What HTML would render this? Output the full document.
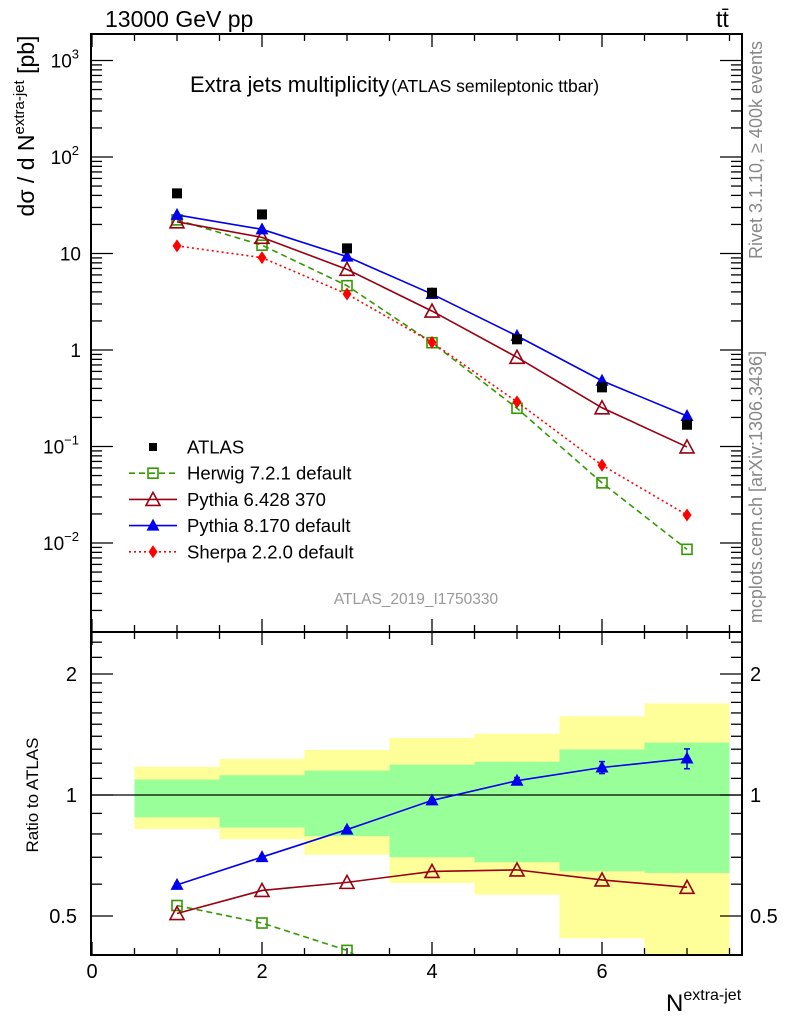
<!DOCTYPE html>
<html><head><meta charset="utf-8">
<style>
html,body{margin:0;padding:0;background:#fff;overflow:hidden;width:786px;height:1024px;}
svg{display:block;font-family:"Liberation Sans",sans-serif;}
</style></head>
<body>
<svg id="chart" width="786" height="1024" viewBox="0 0 786 1024">
<g id="bands"></g>
<g id="grid"></g>
<g id="series"></g>
<rect x="91" y="34" width="651" height="598" fill="none" stroke="#000" stroke-width="2"/>
<rect x="91" y="632" width="651" height="323" fill="none" stroke="#000" stroke-width="2"/>
<text x="105" y="27" font-size="23">13000 GeV pp</text>
<text x="716" y="27" font-size="23">tt̄</text>
<text x="190" y="92" font-size="22">Extra jets multiplicity<tspan font-size="17.5" dx="2">(ATLAS semileptonic ttbar)</tspan></text>
<text transform="translate(34,126) rotate(-90)" text-anchor="middle" font-size="23">dσ / d N<tspan font-size="15" dy="-10">extra-jet</tspan><tspan dy="10"> [pb]</tspan></text>
<text transform="translate(38,795) rotate(-90)" text-anchor="middle" font-size="17">Ratio to ATLAS</text>
<text x="666" y="1011" font-size="24">N<tspan font-size="16" dy="-11">extra-jet</tspan></text>
<text transform="translate(762,150) rotate(-90)" text-anchor="middle" font-size="18" fill="#888">Rivet 3.1.10, ≥ 400k events</text>
<text transform="translate(762,487) rotate(-90)" text-anchor="middle" font-size="18" fill="#888">mcplots.cern.ch [arXiv:1306.3436]</text>
<text x="416" y="604" text-anchor="middle" font-size="15.5" fill="#999">ATLAS_2019_I1750330</text>
<g id="legend"></g>
</svg>
<script>
const xCats = [1,2,3,4,5,6,7];
const atlasVals = [42, 25.4, 11.3, 3.92, 1.29, 0.41, 0.168];
const herwigVals = [22.3, 12.2, 4.64, 1.19, 0.249, 0.042, 0.0086];
const pythia6Vals = [21.3, 14.7, 6.85, 2.53, 0.84, 0.252, 0.099];
const pythia8Vals = [25.1, 17.8, 9.27, 3.8, 1.40, 0.48, 0.207];
const sherpaVals = [12.0, 9.05, 3.80, 1.2, 0.29, 0.064, 0.0195];
const ratioP8Err = [0.005, 0.005, 0.008, 0.01, 0.02, 0.04, 0.07];
const bandEdges = [0.5,1.5,2.5,3.5,4.5,5.5,6.5,7.5];
const yellowUp = [1.176, 1.23, 1.294, 1.386, 1.42, 1.57, 1.69];
const yellowDn = [0.823, 0.777, 0.71, 0.604, 0.565, 0.44, 0.3];
const greenUp = [1.093, 1.12, 1.15, 1.19, 1.21, 1.298, 1.35];
const greenDn = [0.88, 0.83, 0.79, 0.70, 0.68, 0.646, 0.64];
const mainTicks = [{v:1000,l:"10",e:"3"},{v:100,l:"10",e:"2"},{v:10,l:"10",e:""},{v:1,l:"1",e:""},{v:0.1,l:"10",e:"−1"},{v:0.01,l:"10",e:"−2"}];
const ratioTicks = [{v:2,l:"2"},{v:1,l:"1"},{v:0.5,l:"0.5"}];
const xTicks = [0,2,4,6];

const NS="http://www.w3.org/2000/svg";
const X0=91,X1=742,XMAX=7.66;
const MT=34,MB=632,RT=632,RB=955;
function xs(v){return 92+v*85;}
function ym(v){return 350-96.5*Math.log10(v);}
function yr(v){return 795-121*Math.log2(v);}
function mk(tag,attrs,parent){const e=document.createElementNS(NS,tag);for(const k in attrs)e.setAttribute(k,attrs[k]);parent.appendChild(e);return e;}
const grid=document.getElementById('grid'),series=document.getElementById('series'),bands=document.getElementById('bands');

for(let i=0;i<yellowUp.length;i++){
  const x=xs(bandEdges[i]),w=xs(bandEdges[i+1])-x;
  const t=Math.max(RT,yr(yellowUp[i])),b=Math.min(RB,yr(yellowDn[i]));
  const r=mk('rect',{x:x,y:t,width:w,height:b-t,fill:'#ffff99'},bands);
  
  
  const t2=yr(greenUp[i]),b2=yr(greenDn[i]);
  const g=mk('rect',{x:x,y:t2,width:w,height:b2-t2,fill:'#99ff99'},bands);
  
  
}
mk('line',{x1:X0,x2:X1,y1:yr(1),y2:yr(1),stroke:'#000','stroke-width':1.3},grid);

for(let v=0;v<=XMAX;v+=0.5){
  const x=xs(v),len=(v%2===0)?13:7;
  for(const [t,b] of [[MT,MB],[RT,RB]]){
    mk('line',{x1:x,x2:x,y1:t,y2:t+len,stroke:'#000','stroke-width':1.3},grid);
    mk('line',{x1:x,x2:x,y1:b,y2:b-len,stroke:'#000','stroke-width':1.3},grid);
  }
}
xTicks.forEach(v=>{const t=mk('text',{x:xs(v),y:978,'text-anchor':'middle','font-size':20},grid);t.textContent=v;
  
  });

for(let d=-3;d<=3;d++){for(let m=1;m<=9;m++){
  const v=m*Math.pow(10,d),y=ym(v);if(y<MT||y>MB)continue;
  const len=m===1?22:11;
  mk('line',{x1:X0,x2:X0+len,y1:y,y2:y,stroke:'#000','stroke-width':1.3},grid);
  mk('line',{x1:X1,x2:X1-len,y1:y,y2:y,stroke:'#000','stroke-width':1.3},grid);
}}
mainTicks.forEach(tk=>{const t=mk('text',{x:tk.e?79:81,y:ym(tk.v)+7,'text-anchor':'end','font-size':19},grid);
  t.textContent=tk.l; if(tk.e){const s=mk('tspan',{'font-size':13,dy:-9},t);s.textContent=tk.e;}
  
  });

const rMinor=[0.4,0.6,0.7,0.8,0.9,1.1,1.2,1.3,1.4,1.5,1.6,1.7,1.8,1.9,2.2,2.4];
rMinor.forEach(v=>{const y=yr(v);if(y<RT||y>RB)return;
  mk('line',{x1:X0,x2:X0+11,y1:y,y2:y,stroke:'#000','stroke-width':1.3},grid);
  mk('line',{x1:X1,x2:X1-11,y1:y,y2:y,stroke:'#000','stroke-width':1.3},grid);});
ratioTicks.forEach(tk=>{const y=yr(tk.v);
  mk('line',{x1:X0,x2:X0+22,y1:y,y2:y,stroke:'#000','stroke-width':1.3},grid);
  mk('line',{x1:X1,x2:X1-22,y1:y,y2:y,stroke:'#000','stroke-width':1.3},grid);
  const a=mk('text',{x:77,y:y+7,'text-anchor':'end','font-size':20},grid);a.textContent=tk.l;
  
  
  const b=mk('text',{x:750,y:y+7,'font-size':20},grid);b.textContent=tk.l;
  
  });

function marker(type,x,y,color,parent,s){
  s=s||1;let e;
  if(type==='sq') e=mk('rect',{x:x-5*s,y:y-5*s,width:10*s,height:10*s,fill:'#000'},parent);
  else if(type==='osq') e=mk('rect',{x:x-5,y:y-5,width:10,height:10,fill:'none',stroke:color,'stroke-width':1.6},parent);
  else if(type==='otri') e=mk('polygon',{points:`${x},${y-7} ${x-7},${y+6} ${x+7},${y+6}`,fill:'none',stroke:color,'stroke-width':1.6},parent);
  else if(type==='tri') e=mk('polygon',{points:`${x},${y-7} ${x-6.5},${y+5} ${x+6.5},${y+5}`,fill:color},parent);
  else e=mk('polygon',{points:`${x},${y-6.5} ${x+4.5},${y} ${x},${y+6.5} ${x-4.5},${y}`,fill:color},parent);
  return e;
}
const defs=[
 {name:'herwig',vals:herwigVals,color:'#339900',dash:'6,4',m:'osq'},
 {name:'pythia6',vals:pythia6Vals,color:'#990011',dash:'',m:'otri'},
 {name:'pythia8',vals:pythia8Vals,color:'#0000ee',dash:'',m:'tri'},
 {name:'sherpa',vals:sherpaVals,color:'#ff0000',dash:'2,3',m:'dia'}];
const cp=mk('clipPath',{id:'rclip'},series);
mk('rect',{x:X0,y:RT,width:X1-X0,height:RB-RT},cp);
defs.forEach(d=>{
  const g=mk('g',{},series);
  
  
  const pts=xCats.map((c,i)=>xs(c)+','+ym(d.vals[i])).join(' ');
  mk('polyline',{points:pts,fill:'none',stroke:d.color,'stroke-width':1.6,'stroke-dasharray':d.dash},g);
  xCats.forEach((c,i)=>{const e=marker(d.m,xs(c),ym(d.vals[i]),d.color,g);
    
    });
  const rg=mk('g',{'clip-path':'url(#rclip)'},series);
  
  
  const rp=xCats.map((c,i)=>xs(c)+','+yr(d.vals[i]/atlasVals[i])).join(' ');
  mk('polyline',{points:rp,fill:'none',stroke:d.color,'stroke-width':1.6,'stroke-dasharray':d.dash},rg);
  xCats.forEach((c,i)=>{const r=d.vals[i]/atlasVals[i];
    if(d.name==='pythia8'){const e=ratioP8Err[i];mk('line',{x1:xs(c),x2:xs(c),y1:yr(r+e),y2:yr(r-e),stroke:d.color,'stroke-width':1.5},rg);
      mk('line',{x1:xs(c)-3,x2:xs(c)+3,y1:yr(r+e),y2:yr(r+e),stroke:d.color,'stroke-width':1.5},rg);
      mk('line',{x1:xs(c)-3,x2:xs(c)+3,y1:yr(r-e),y2:yr(r-e),stroke:d.color,'stroke-width':1.5},rg);}
    const e=marker(d.m,xs(c),yr(r),d.color,rg);
    
    });
});
const ag=mk('g',{},series);


xCats.forEach((c,i)=>{const e=marker('sq',xs(c),ym(atlasVals[i]),'#000',ag);
  
  });

const lg=document.getElementById('legend');
const leg=[{t:'ATLAS',m:'sq',c:'#000',d:null},{t:'Herwig 7.2.1 default',m:'osq',c:'#339900',d:'6,4'},
 {t:'Pythia 6.428 370',m:'otri',c:'#990011',d:''},{t:'Pythia 8.170 default',m:'tri',c:'#0000ee',d:''},
 {t:'Sherpa 2.2.0 default',m:'dia',c:'#ff0000',d:'2,3'}];
leg.forEach((L,i)=>{const y=447+i*26.2;
  const g=mk('g',{},lg);
  
  
  if(L.d!==null) mk('line',{x1:129,x2:177,y1:y,y2:y,stroke:L.c,'stroke-width':1.6,'stroke-dasharray':L.d},g);
  marker(L.m,153,y,L.c,g,L.m==='sq'?0.8:1);
  const t=mk('text',{x:187,y:y+6.5,'font-size':18.5},g);t.textContent=L.t;});
</script>
</body></html>
